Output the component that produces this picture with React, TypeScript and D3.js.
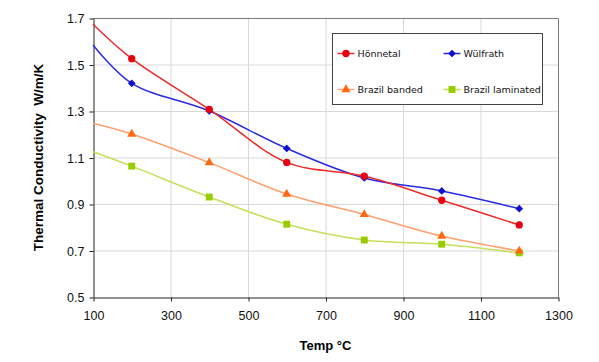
import { useRef, useEffect } from 'react';
import * as d3 from 'd3';

const temps = [100, 200, 400, 600, 800, 1000, 1200];
const honnetal = [1.673, 1.525, 1.307, 1.079, 1.02, 0.916, 0.81];
const wulfrath = [1.584, 1.419, 1.3, 1.139, 1.012, 0.956, 0.88];
const brazilBanded = [1.247, 1.201, 1.078, 0.943, 0.855, 0.762, 0.698];
const brazilLaminated = [1.125, 1.063, 0.93, 0.813, 0.745, 0.727, 0.69];

const xTicks = [100, 300, 500, 700, 900, 1100, 1300];
const yTicks = [0.5, 0.7, 0.9, 1.1, 1.3, 1.5, 1.7];

const seriesList = [
  { name: 'Hönnetal', values: honnetal, line: '#ee2a2a', mark: '#e60012', shape: 'circle' },
  { name: 'Wülfrath', values: wulfrath, line: '#2a2ae6', mark: '#1010d0', shape: 'diamond' },
  { name: 'Brazil banded', values: brazilBanded, line: '#ffa070', mark: '#ff6a10', shape: 'triangle' },
  { name: 'Brazil laminated', values: brazilLaminated, line: '#c4e05a', mark: '#99cc00', shape: 'square' },
];

const W = 599;
const H = 362;

const App = () => {
  const svgRef = useRef<SVGSVGElement>(null);

  useEffect(() => {
    document.body.style.margin = '0';
    if (!svgRef.current) return;
    const svg = d3.select(svgRef.current).attr('width', W).attr('height', H);
    svg.selectAll('*').remove();
    svg.append('rect').attr('width', W).attr('height', H).attr('fill', '#fff');

    const left = 93;
    const right = 558;
    const top = 18;
    const bottom = 297;

    const x = d3.scaleLinear().domain([100, 1300]).range([left, right]);
    const y = d3.scaleLinear().domain([0.5, 1.7]).range([bottom, top]);

    // grid
    const grid = svg.append('g').attr('stroke', '#d8d8d8').attr('stroke-width', 1);
    xTicks.slice(1, -1).forEach((t) => {
      grid.append('line').attr('x1', x(t) + 0.5).attr('x2', x(t) + 0.5).attr('y1', top).attr('y2', bottom);
    });
    yTicks.slice(1, -1).forEach((t) => {
      grid.append('line').attr('y1', y(t) + 0.5).attr('y2', y(t) + 0.5).attr('x1', left).attr('x2', right);
    });

    // frame top / right
    svg.append('path')
      .attr('d', `M${left},${top + 0.5}H${right + 0.5}V${bottom}`)
      .attr('fill', 'none')
      .attr('stroke', '#7a7a7a');

    // axes
    const xAxis = svg.append('g').attr('transform', `translate(0.5,${bottom + 0.5})`)
      .call(d3.axisBottom(x).tickValues(xTicks).tickSize(4).tickSizeOuter(0).tickPadding(10).tickFormat(d3.format('d')));
    const yAxis = svg.append('g').attr('transform', `translate(${left + 0.5},0.5)`)
      .call(d3.axisLeft(y).tickValues(yTicks).tickSize(4).tickSizeOuter(0).tickPadding(5).tickFormat(d3.format('.1f')));
    [xAxis, yAxis].forEach((a) => {
      a.selectAll('path, line').attr('stroke', '#222');
      a.selectAll('text')
        .attr('fill', '#111')
        .style('font-family', 'Liberation Sans, Arial, sans-serif')
        .style('font-size', '12.5px');
    });

    const line = d3.line<number>()
      .x((_, i) => x(temps[i]))
      .y((d) => y(d))
      .curve(d3.curveCatmullRom.alpha(0.5));

    const symbolFor = (shape: string) =>
      shape === 'circle' ? d3.symbol(d3.symbolCircle, 42)
        : shape === 'diamond' ? d3.symbol(d3.symbolSquare, 30)
        : shape === 'triangle' ? d3.symbol(d3.symbolTriangle, 36)
        : d3.symbol(d3.symbolSquare, 48);
    const rot = (shape: string) => (shape === 'diamond' ? ' rotate(45)' : '');

    // draw in reverse so Hönnetal is on top
    [...seriesList].reverse().forEach((s) => {
      svg.append('path')
        .attr('d', line(s.values))
        .attr('fill', 'none')
        .attr('stroke', s.line)
        .attr('stroke-width', 1.5);
      svg.append('g')
        .selectAll('path')
        .data(s.values.slice(1))
        .enter()
        .append('path')
        .attr('transform', (d, i) => `translate(${x(temps[i + 1])},${y(d)})${rot(s.shape)}`)
        .attr('d', symbolFor(s.shape)() as string)
        .attr('fill', s.mark);
    });

    // legend
    const lg = svg.append('g').attr('transform', 'translate(332.5,33.5)');
    lg.append('rect').attr('width', 210).attr('height', 71).attr('fill', '#fff').attr('stroke', '#444');
    const cols = [5, 111];
    const rows = [20, 56];
    seriesList.forEach((s, i) => {
      const gx = cols[i % 2];
      const gy = rows[Math.floor(i / 2)];
      const item = lg.append('g').attr('transform', `translate(${gx},${gy})`);
      item.append('line').attr('x1', 0).attr('x2', 17).attr('stroke', s.line).attr('stroke-width', 1.5);
      item.append('path')
        .attr('transform', `translate(8.5,0)${rot(s.shape)}`)
        .attr('d', symbolFor(s.shape)() as string)
        .attr('fill', s.mark);
      item.append('text')
        .attr('x', 20)
        .attr('dy', '0.35em')
        .style('font-family', 'DejaVu Sans, Verdana, sans-serif')
        .style('font-size', '9.5px')
        .attr('fill', '#111')
        .text(s.name);
    });

    // titles
    svg.append('text')
      .attr('x', (left + right) / 2)
      .attr('y', 350)
      .attr('text-anchor', 'middle')
      .style('font-family', 'Liberation Sans, Arial, sans-serif')
      .style('font-weight', 'bold')
      .style('font-size', '13px')
      .text('Temp °C');
    svg.append('text')
      .attr('transform', `translate(43,${(top + bottom) / 2}) rotate(-90)`)
      .attr('text-anchor', 'middle')
      .style('font-family', 'Liberation Sans, Arial, sans-serif')
      .style('font-weight', 'bold')
      .style('font-size', '13.5px')
      .attr('xml:space', 'preserve')
      .text('Thermal Conductivity  W/m/K');
  }, []);

  return <svg ref={svgRef} style={{ display: 'block' }}></svg>;
};

export default App;
